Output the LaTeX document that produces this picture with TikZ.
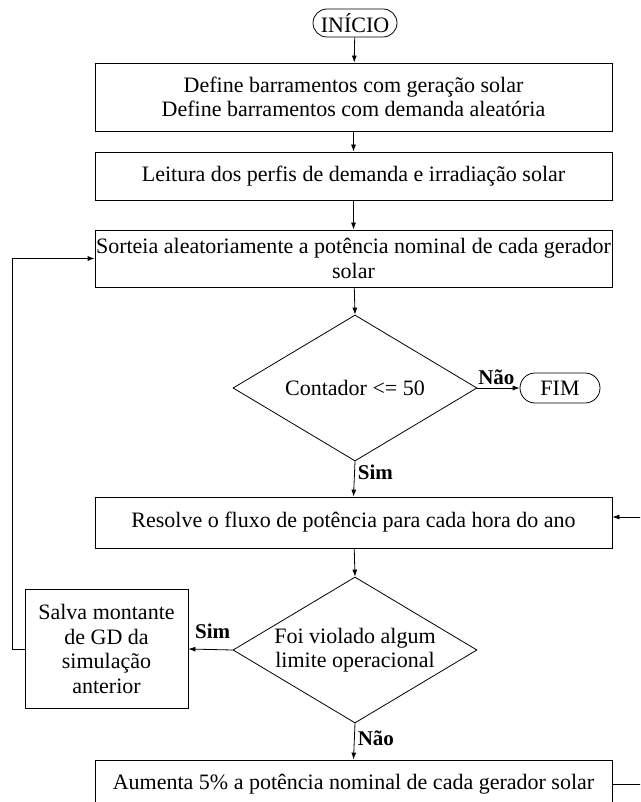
\documentclass[tikz,border=0pt]{standalone}
\usepackage{fontspec}
\setmainfont{Liberation Serif}
\usetikzlibrary{shapes.geometric,shapes.misc,arrows.meta}
\begin{document}
\begin{tikzpicture}[x=1pt,y=-1pt,
  every node/.style={font=\fontsize{22}{24.5}\selectfont},
  procbox/.style={draw, rectangle, minimum width=517pt, inner sep=0pt, align=center, line width=0.8pt},
  term/.style={draw, rounded rectangle, inner sep=0pt, line width=0.8pt},
  decis/.style={draw, diamond, minimum width=244pt, minimum height=146pt, inner sep=0pt, line width=0.8pt},
  lbl/.style={font=\fontsize{21}{24}\selectfont\bfseries, inner sep=0pt},
  arr/.style={-{Latex[length=7pt,width=5pt]}, line width=0.8pt},
  ln/.style={line width=0.8pt}]
\clip (0,0) rectangle (640,802);
\useasboundingbox (0,0) rectangle (640,802);
\node[term, minimum width=84pt, minimum height=28pt] (ini) at (355,23) {INÍCIO};
\node[procbox, minimum height=68pt] (b1) at (353.5,97) {Define barramentos com geração solar\\Define barramentos com demanda aleatória};
\node[procbox, minimum height=48pt] (b2) at (353.5,176) {Leitura dos perfis de demanda e irradiação solar};
\node[procbox, minimum height=57pt] (b3) at (353.5,258.5) {Sorteia aleatoriamente a potência nominal de cada gerador\\solar};
\node[decis] (d1) at (355,388) {};
\node at (d1.center) {Contador <= 50};
\node[term, minimum width=80pt, minimum height=30pt] (fim) at (560,388) {FIM};
\node[procbox, minimum height=51pt] (b4) at (353.5,522.5) {Resolve o fluxo de potência para cada hora do ano};
\node[decis] (d2) at (355,650) {};
\node[align=center] at (d2.center) {Foi violado algum\\limite operacional};
\node[draw, rectangle, minimum width=163pt, minimum height=119pt, inner sep=0pt, align=center, line width=0.8pt] (sv) at (106.5,649) {Salva montante\\de GD da\\simulação\\anterior};
\node[procbox, minimum height=48pt] (b5) at (353.5,784) {Aumenta 5\% a potência nominal de cada gerador solar};
\coordinate (r1) at (650,784);
\coordinate (r2) at (650,517);
\coordinate (l1) at (12,649);
\coordinate (l2) at (12,258.5);

\draw[arr] (ini) -- (b1);
\draw[arr] (b1) -- (b2);
\draw[arr] (b2) -- (b3);
\draw[arr] (b3) -- (d1.north);
\draw[arr] (d1.east) -- node[lbl, above, pos=0.45, yshift=3pt] {Não} (fim.west);
\draw[arr] (d1.south) -- node[lbl, right, pos=0.3, xshift=3pt] {Sim} (b4.north);
\draw[arr] (b4) -- (d2.north);
\draw[arr] (d2.west) -- node[lbl, above, pos=0.45, yshift=10pt] {Sim} (sv.east);
\draw[arr] (d2.south) -- node[lbl, right, pos=0.4, xshift=3pt] {Não} (b5.north);
\draw[arr] (sv.west) -- (l1) -- (l2) -- (b3.west);
\draw[ln] (b5.east |- r1) -- (r1) -- (r2);
\draw[arr] (r2) -- (b4.east |- r2);
\end{tikzpicture}
\end{document}
